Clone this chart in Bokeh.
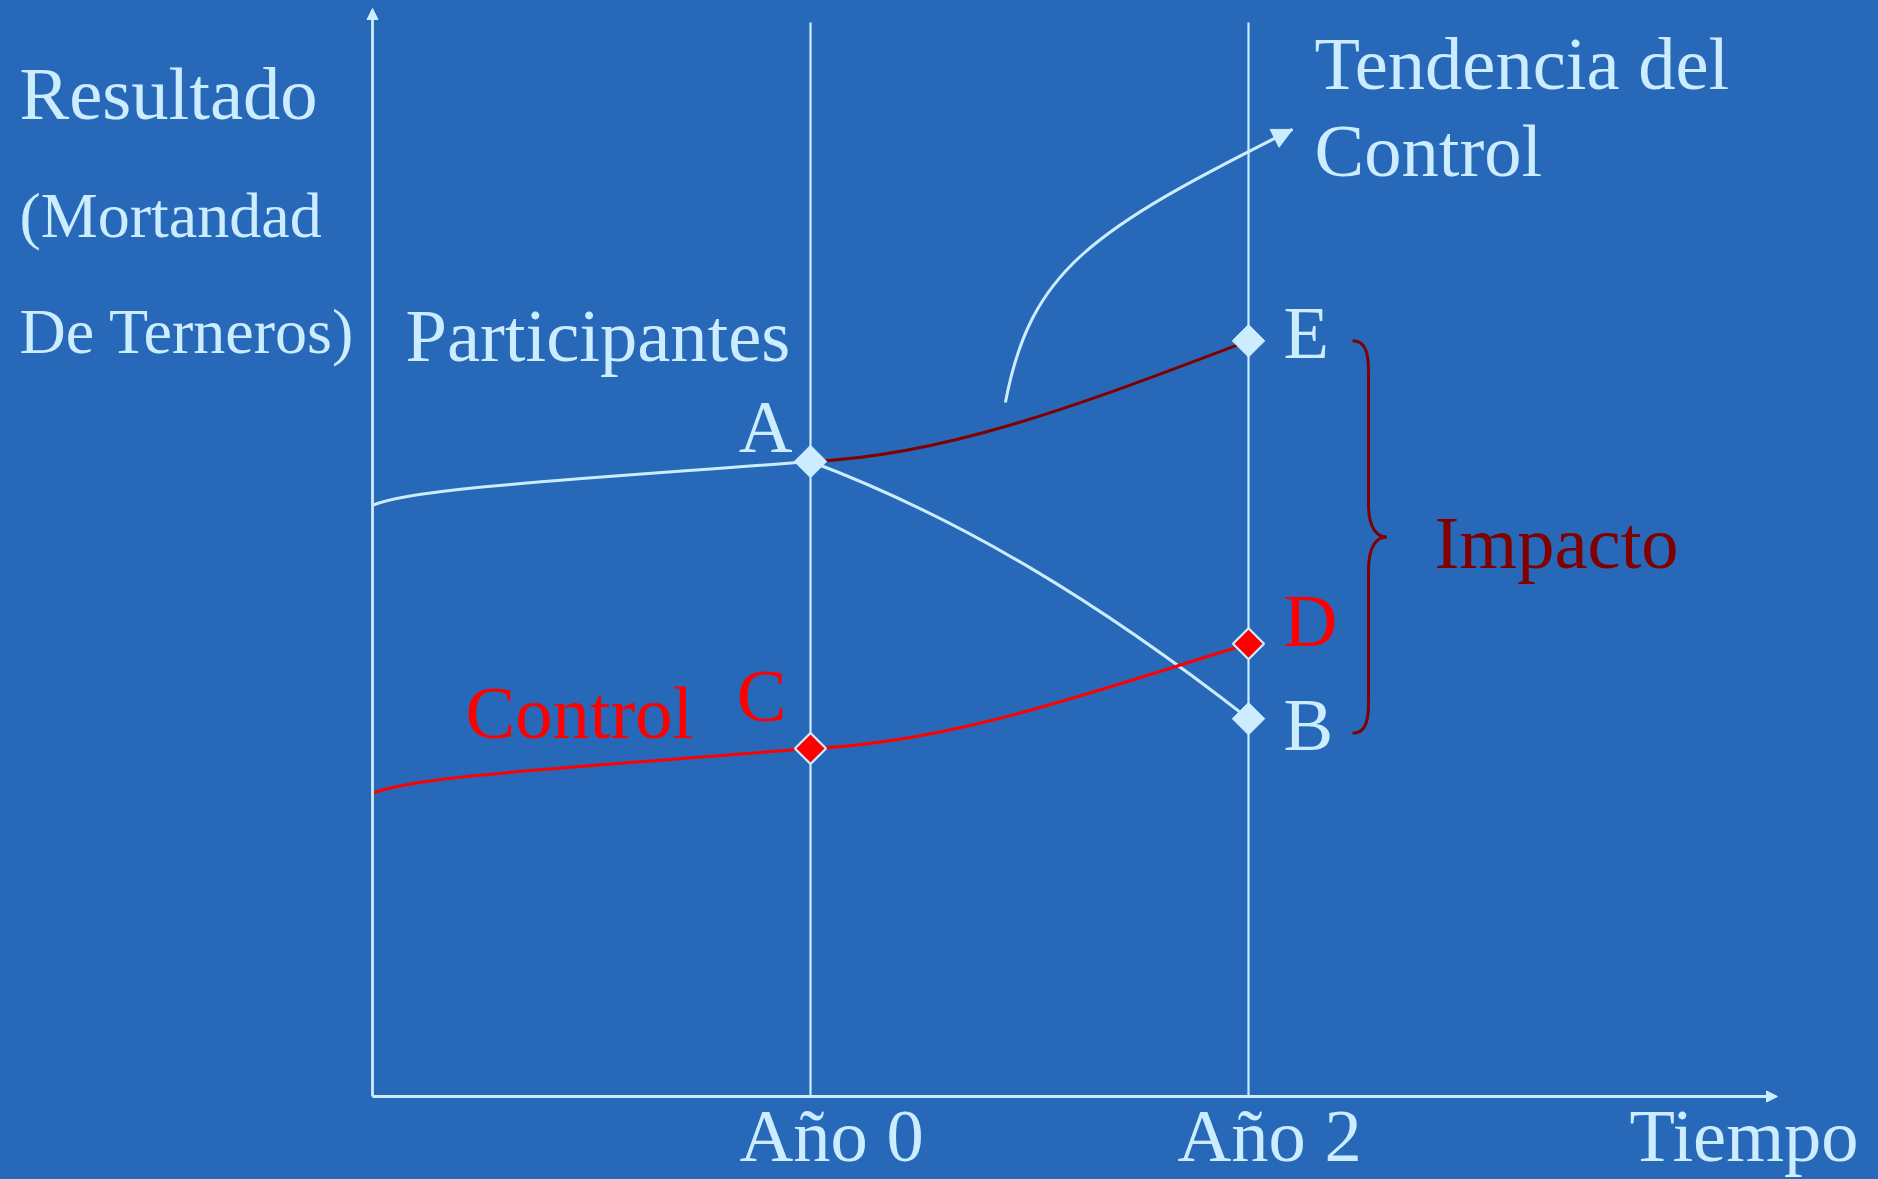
import math
from bokeh.plotting import figure
from bokeh.models import Range1d, Arrow, NormalHead, GlobalInlineStyleSheet
from bokeh.core.properties import value
from bokeh.embed import file_html
from bokeh.resources import INLINE

# ---------------- data ----------------
point_labels = ["A", "B", "C", "D", "E"]
point_years = [0, 2, 0, 2, 2]
point_values = [10.0, 5.95, 5.48, 7.13, 11.9]

tick_years = [0, 2]
tick_labels = ["Año 0", "Año 2"]

# cubic curves: [start, control 1, control 2, end]
part_pre_x = [-2.0, -1.826, -1.142, 0.0]
part_pre_y = [9.31, 9.575, 9.70, 10.0]
ctrl_pre_x = [-2.0, -1.826, -1.142, 0.0]
ctrl_pre_y = [4.77, 5.04, 5.165, 5.48]
part_post_x = [0.0, 0.68, 1.315, 2.0]
part_post_y = [10.0, 9.118, 7.795, 5.95]
trend_x = [0.0, 0.662, 1.333, 2.0]
trend_y = [10.0, 10.094, 11.04, 11.9]
ctrl_post_x = [0.0, 0.662, 1.333, 2.0]
ctrl_post_y = [5.48, 5.575, 6.425, 7.13]
arrow_x = [0.890, 1.005, 1.279, 2.201]
arrow_y = [10.93, 13.01, 13.64, 15.23]

impact_range = [11.9, 5.72]

# ---------------- layout ----------------
BG = "#2769B8"
LIGHT = "#CCECFF"
RED = "#FF0000"
DARK = "#800000"
FONT = value("Liberation Serif")
FS_PX = 74.5
FS_SMALL_PX = 64


def tdy(size):
    return -0.36 * size  # baseline correction


W, H = 1878, 1179
X0, SX = 810.0, 219.0     # page px of year 0, px per year
Y0, SY = 1096.0, 63.5     # page px of value 0, px per unit


def px(xp, yp):
    return (xp - X0) / SX, (Y0 - yp) / SY


x_lo, y_top = px(0, 0)
x_hi, y_bot = px(W, H)

p = figure(width=W, height=H, x_range=Range1d(x_lo, x_hi), y_range=Range1d(y_bot, y_top),
           output_backend="svg", toolbar_location=None, min_border=0,
           x_axis_location=None, y_axis_location=None,
           background_fill_color=BG, border_fill_color=BG, outline_line_color=None)
p.grid.visible = False
p.stylesheets.append(GlobalInlineStyleSheet(css="body{background:%s;}" % BG))

# vertical year lines
vtop = px(0, 22)[1]
p.segment(x0=tick_years, y0=[0, 0], x1=tick_years, y1=[vtop, vtop], line_color=LIGHT, line_width=2.2)

# axes with arrows
x_tip = px(1777, 0)[0]
y_tip = px(0, 8)[1]
p.add_layout(Arrow(end=NormalHead(size=11, fill_color=LIGHT, line_color=LIGHT, line_width=1),
                   x_start=-2, y_start=0, x_end=x_tip, y_end=0, line_color=LIGHT, line_width=2.8))
p.add_layout(Arrow(end=NormalHead(size=11, fill_color=LIGHT, line_color=LIGHT, line_width=1),
                   x_start=-2, y_start=0, x_end=-2, y_end=y_tip, line_color=LIGHT, line_width=2.8))


def bez(xs, ys, color, lw=3):
    p.bezier(x0=[xs[0]], y0=[ys[0]], cx0=[xs[1]], cy0=[ys[1]], cx1=[xs[2]], cy1=[ys[2]],
             x1=[xs[3]], y1=[ys[3]], line_color=color, line_width=lw)


bez(part_pre_x, part_pre_y, LIGHT)
bez(part_post_x, part_post_y, LIGHT)
bez(ctrl_pre_x, ctrl_pre_y, RED)
bez(ctrl_post_x, ctrl_post_y, RED)
bez(trend_x, trend_y, DARK)
bez(arrow_x, arrow_y, LIGHT)
p.add_layout(Arrow(end=NormalHead(size=20, fill_color=LIGHT, line_color=LIGHT, line_width=1),
                   x_start=arrow_x[2], y_start=arrow_y[2], x_end=arrow_x[3], y_end=arrow_y[3],
                   line_alpha=0))

# brace for "Impacto"
xe = px(1352, 0)[0]
xv = px(1368, 0)[0]
xc = px(1386, 0)[0]
xk = px(1364, 0)[0]
xq = px(1377, 0)[0]
yt, yb = impact_range
ym = (yt + yb) / 2
hook = 30 / SY
cusp = 33 / SY
k1 = 10 / SY
k2 = 8 / SY
p.bezier(x0=[xe, xv, xc, xv], y0=[yt, ym + cusp, ym, yb + hook],
         cx0=[xk, xv, xq, xv], cy0=[yt, ym + k2, ym, yb + k1],
         cx1=[xv, xq, xv, xk], cy1=[yt - k1, ym, ym - k2, yb],
         x1=[xv, xc, xv, xe], y1=[yt - hook, ym, ym - cusp, yb],
         line_color=DARK, line_width=3)
p.segment(x0=[xv, xv], y0=[yt - hook, ym - cusp], x1=[xv, xv], y1=[ym + cusp, yb + hook],
          line_color=DARK, line_width=3)

# markers
light_idx = [0, 1, 4]
red_idx = [2, 3]
p.scatter([point_years[i] for i in light_idx], [point_values[i] for i in light_idx],
          marker="square", angle=math.pi / 4, size=23, fill_color=LIGHT, line_color=LIGHT, line_width=1)
p.scatter([point_years[i] for i in red_idx], [point_values[i] for i in red_idx],
          marker="square", angle=math.pi / 4, size=22, fill_color=RED, line_color=LIGHT, line_width=2.2)

# point labels
lab_color = [LIGHT, LIGHT, RED, RED, LIGHT]
lab_align = ["right", "left", "right", "left", "left"]
lab_dx = [-18, 35, -24, 35, 35]
lab_dy = [d + tdy(FS_PX) for d in [-8, 33, -26, 4, 19]]
p.text(x=point_years, y=point_values, text=point_labels, text_color=lab_color, text_align=lab_align,
       x_offset=lab_dx, y_offset=lab_dy, text_baseline="alphabetic", text_font=FONT,
       text_font_size="%spx" % FS_PX)

# tick labels
p.text(x=tick_years, y=[0, 0], text=tick_labels, text_color=LIGHT, text_align="left",
       x_offset=-71, y_offset=66 + tdy(FS_PX), text_baseline="alphabetic", text_font=FONT,
       text_font_size="%spx" % FS_PX)

# other texts
texts = [
    ("Resultado", 19, 120, LIGHT, FS_PX),
    ("(Mortandad", 19, 238, LIGHT, FS_SMALL_PX),
    ("De Terneros)", 19, 354, LIGHT, FS_SMALL_PX),
    ("Participantes", 405, 362, LIGHT, FS_PX),
    ("Tendencia del", 1314, 90, LIGHT, FS_PX),
    ("Control", 1314, 177, LIGHT, FS_PX),
    ("Control", 465, 739, RED, FS_PX),
    ("Impacto", 1434, 569, DARK, FS_PX),
    ("Tiempo", 1629, 1162, LIGHT, FS_PX),
]
for t, xp, yp, c, fs in texts:
    dx, dy = px(xp, yp)
    p.text(x=[dx], y=[dy], text=[t], text_color=c, text_align="left", text_baseline="alphabetic",
           y_offset=tdy(fs), text_font=FONT, text_font_size="%spx" % fs)

open("out.html", "w").write(file_html(p, INLINE))
